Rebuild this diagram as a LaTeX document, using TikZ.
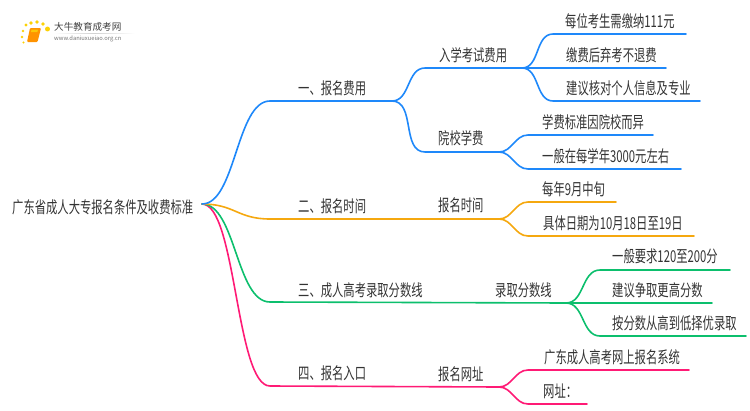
\documentclass[tikz,border=0pt]{standalone}
\usepackage{fontspec}
\setmainfont[FakeStretch=0.69]{Noto Sans CJK SC}
\newfontfamily\logofont{Noto Sans CJK SC}
\definecolor{cblue}{HTML}{1E88FA}
\definecolor{corange}{HTML}{F5A80F}
\definecolor{cgreen}{HTML}{0CBF6D}
\definecolor{cpink}{HTML}{FF1A75}
\definecolor{ctext}{HTML}{333333}
\tikzset{
  lbl/.style={anchor=west,inner sep=0pt,text=ctext,font=\fontsize{16.4}{16}\selectfont},
  conn/.style={line width=1.6pt,line cap=round},
  sc/.style={out=0,in=180},
}
\begin{document}
\begin{tikzpicture}[x=1pt,y=-1pt]
\useasboundingbox (0,0) rectangle (750,410);
% logo
\shade[left color=white,right color=white,middle color=black!18] (54,33) rectangle (135,33.6);
\foreach \x/\y/\s in {26/25/3,31/23/3.5,37/22/3.5,43/24/3.5,47.5/29/4.5,23/31/2.5,22/37/2.5,23.5/42.5/2}
  \fill[yellow!70!orange] (\x,\y) circle[radius=\s/2*1.1];
\fill[orange!85!yellow,rounded corners=1pt] (30,28) -- (41,28) -- (37.5,42) -- (27,42) -- cycle;
\fill[yellow!60!orange] (31.5,29.5) -- (38,29.5) -- (37.4,32) -- (31,32) -- cycle;
\node[anchor=west,inner sep=0pt,text=black!75,font=\logofont\fontsize{9.6}{10}\selectfont] (logoa) at (54,27) {大牛教育成考网};
\node[anchor=west,inner sep=0pt,text=black!55,font=\logofont\fontsize{5.8}{6}\selectfont] (logob) at (54,39) {www.daniuxueiao.org.cn};
% root
\node[lbl] (root) at (12,207) {广东省成人大专报名条件及收费标准};
\coordinate (r) at (202,204);
% text nodes
\node[lbl] (n1) at (298,88) {一、报名费用};
\node[lbl] (n2) at (298,206) {二、报名时间};
\node[lbl] (n3) at (298,290) {三、成人高考录取分数线};
\node[lbl] (n4) at (298,373) {四、报名入口};
\node[lbl] (m1) at (439,55) {入学考试费用};
\node[lbl] (m2) at (438,138) {院校学费};
\node[lbl] (m3) at (438,205) {报名时间};
\node[lbl] (m4) at (495,290) {录取分数线};
\node[lbl] (m5) at (438,374) {报名网址};
\node[lbl] (l1) at (565,21) {每位考生需缴纳111元};
\node[lbl] (l2) at (566,55) {缴费后弃考不退费};
\node[lbl] (l3) at (566,88) {建议核对个人信息及专业};
\node[lbl] (l4) at (542,122) {学费标准因院校而异};
\node[lbl] (l5) at (542,156) {一般在每学年3000元左右};
\node[lbl] (l6) at (542,189) {每年9月中旬};
\node[lbl] (l7) at (543,223) {具体日期为10月18日至19日};
\node[lbl] (l8) at (612,256) {一般要求120至200分};
\node[lbl] (l9) at (612,290) {建议争取更高分数};
\node[lbl] (l10) at (612,323) {按分数从高到低择优录取};
\node[lbl] (l11) at (544,357) {广东成人高考网上报名系统};
\node[lbl] (l12) at (543,391) {网址：};
% junctions
\foreach \n/\x/\y in {a1/270/101,a2/392/101,b1/425/68,b2/522/68,c1/553/34,c1e/686/34,c2e/666/68,c3/553/101,c3e/700/101,
  b3/425/152,b4/499/152,d1/528/135,d1e/653/135,d2/528/169,d2e/681/169,
  e1/270/219,e2/499/219,f1/528/202,f1e/616/202,f2/528/236,f2e/694/236,
  g1/270/302,g2/566/303,h1/600/270,h1e/730/270,h2e/712/303,h3/600/336,h3e/746/336,
  i1/270/386,i2/499/387,j1/528/370,j1e/689/370,j2/528/404,j2e/587/404}
  \coordinate (\n) at (\x,\y);
% pink
\draw[conn,cpink] (r) to[sc,looseness=0.45] (i1) -- (i2);
\draw[conn,cpink] (i2) to[sc] (j1) -- (j1e);
\draw[conn,cpink] (i2) to[sc] (j2) -- (j2e);
% green
\draw[conn,cgreen] (r) to[sc,looseness=0.73] (g1) -- (g2);
\draw[conn,cgreen] (g2) to[sc] (h1) -- (h1e);
\draw[conn,cgreen] (g2) -- (h2e);
\draw[conn,cgreen] (g2) to[sc] (h3) -- (h3e);
% orange
\draw[conn,corange] (r) to[sc,looseness=1.2] (e1) -- (e2);
\draw[conn,corange] (e2) to[sc] (f1) -- (f1e);
\draw[conn,corange] (e2) to[sc] (f2) -- (f2e);
% blue
\draw[conn,cblue] (r) to[sc,looseness=0.7] (a1) -- (a2);
\draw[conn,cblue] (a2) to[sc] (b1) -- (b2);
\draw[conn,cblue] (b2) to[sc] (c1) -- (c1e);
\draw[conn,cblue] (b2) -- (c2e);
\draw[conn,cblue] (b2) to[sc] (c3) -- (c3e);
\draw[conn,cblue] (a2) to[sc] (b3) -- (b4);
\draw[conn,cblue] (b4) to[sc] (d1) -- (d1e);
\draw[conn,cblue] (b4) to[sc] (d2) -- (d2e);
\end{tikzpicture}
\end{document}
